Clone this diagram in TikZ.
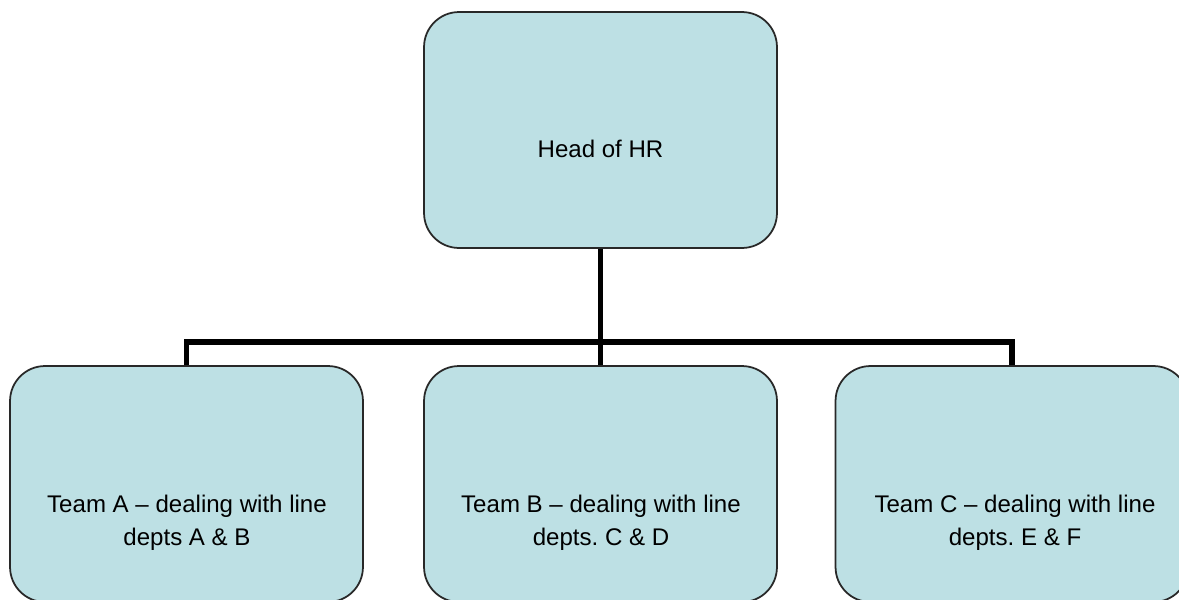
\documentclass[tikz,border=0pt]{standalone}
\usepackage{fontspec}
\setmainfont{Liberation Sans}
\frenchspacing
\definecolor{boxfill}{RGB}{189,224,228}
\definecolor{boxline}{RGB}{40,40,40}
\begin{document}
\begin{tikzpicture}[x=0.02cm,y=-0.02cm,
  orgbox/.style={draw=boxline,line width=1pt,fill=boxfill,rounded corners=0.7cm,
    minimum width=7.06cm,minimum height=4.72cm,inner sep=0pt},
  orgtext/.style={font=\fontsize{13.7pt}{18.8pt}\selectfont,align=center,inner sep=0pt,text=black},
  link/.style={line width=2.9pt,black}]
\clip (0,0) rectangle (1179,599);
\fill[white] (0,0) rectangle (1179,599);
\node[orgbox] (hr) at (600.5,130) {};
\node[orgbox] (ta) at (186.5,484) {};
\node[orgbox] (tb) at (600.5,484) {};
\node[orgbox] (tc) at (1012,484) {};
\node[orgtext] (hrt) at (600.5,149) {Head of HR};
\node[orgtext] (tat) at (187,523) {Team A -- dealing with line\\depts A \& B};
\node[orgtext] (tbt) at (601,523) {Team B -- dealing with line\\depts. C \& D};
\node[orgtext] (tct) at (1015,523) {Team C -- dealing with line\\depts. E \& F};
\coordinate (bar) at (600.5,342);
\draw[link] (hr.south) -- (bar);
\draw[link] (bar) -- (tb.north);
\draw[link] (ta.north) |- (bar);
\draw[link] (tc.north) |- (bar);
\end{tikzpicture}
\end{document}
